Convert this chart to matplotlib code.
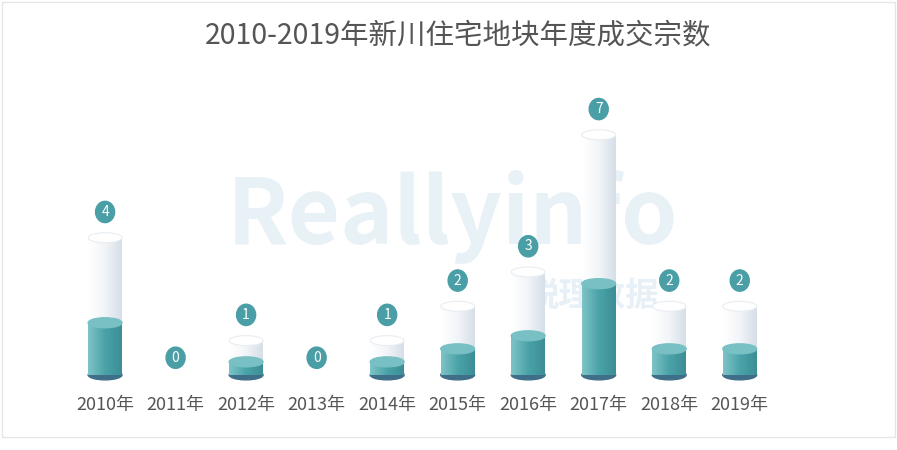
import matplotlib
matplotlib.use('Agg')
import matplotlib.pyplot as plt
from matplotlib.patches import Ellipse, Rectangle
from matplotlib.colors import LinearSegmentedColormap
import numpy as np

plt.rcParams['font.family'] = ['Noto Sans CJK SC', 'DejaVu Sans']

years = ['2010年', '2011年', '2012年', '2013年', '2014年',
         '2015年', '2016年', '2017年', '2018年', '2019年']
counts = [4, 0, 1, 0, 1, 2, 3, 7, 2, 2]
title = '2010-2019年新川住宅地块年度成交宗数'

fig = plt.figure(figsize=(8.97, 4.5), dpi=100)
ax = fig.add_axes([0, 0, 1, 1])
ax.set_xlim(-1.49, 11.23)
ax.set_ylim(-2.19, 10.93)
ax.axis('off')

fig.patches.append(Rectangle((0.002, 0.03), 0.996, 0.965, transform=fig.transFigure,
                             fill=False, edgecolor='#e6e6e6', lw=1))

# watermark
ax.text(4.92, 4.6, 'Reallyinfo', fontsize=65, fontweight='bold', color='#d6e6f0',
        alpha=0.55, ha='center', va='center', zorder=0)
ax.text(6.9, 2.3, '锐理数据', fontsize=24, fontweight='bold', color='#d6e6f0',
        alpha=0.6, ha='center', va='center', zorder=0)

w = 0.48
eh = 0.29
teal_frac = 0.38
grad = np.linspace(0, 1, 50).reshape(1, -1)
glass = LinearSegmentedColormap.from_list('g', ['#ffffff', '#f2f5f8', '#d6dee8'])
tealmap = LinearSegmentedColormap.from_list('t', ['#7ec3c6', '#4aa3a8', '#3c8e95'])

for i, v in enumerate(counts):
    if v > 0:
        x0 = i - w / 2
        ax.imshow(grad, cmap=glass, extent=(x0, x0 + w, 0, v), aspect='auto', zorder=2)
        tv = v * teal_frac
        ax.imshow(grad, cmap=tealmap, extent=(x0, x0 + w, 0, tv), aspect='auto', zorder=3)
        ax.add_patch(Ellipse((i, 0), w, eh, color='#3f6f88', zorder=1.5))
        ax.add_patch(Ellipse((i, tv), w, eh, color='#78c0c4', zorder=4))
        ax.add_patch(Ellipse((i, v), w, eh, facecolor='#ffffff', edgecolor='#e8edf2', lw=0.8, zorder=4))
    ly = v + 0.75 if v > 0 else 0.5
    ax.add_patch(Ellipse((i, ly), 0.27, 0.62, color='#4a9ea6', zorder=5))
    ax.text(i, ly, str(v), color='white', fontsize=10, ha='center', va='center', zorder=6)
    ax.text(i, -0.87, years[i], color='#555555', fontsize=13, ha='center', va='center')

ax.text(5.0, 9.9, title, color='#555555', fontsize=20.5, ha='center', va='center')

fig.savefig('out.png', dpi=100)
